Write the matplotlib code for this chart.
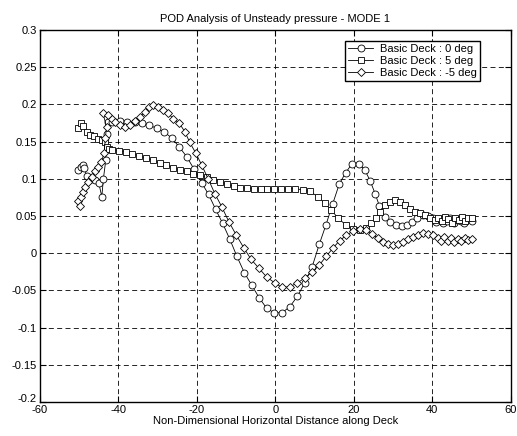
import matplotlib
matplotlib.use('Agg')
import matplotlib.pyplot as plt
import matplotlib.transforms as mtransforms

plt.rcParams['font.family'] = ['Liberation Sans', 'DejaVu Sans']
plt.rcParams['axes.unicode_minus'] = False

# Basic Deck : 0 deg (circles)
x0 = [-50.3, -49.6, -49.1, -48.7, -48.0, -47.0, -46.0, -45.0, -44.2, -43.8, -43.2, -42.9, -42.5,
      -41.5, -39.6, -37.7, -35.8, -34.0, -32.1, -30.2, -28.3, -26.4, -24.5, -22.6, -20.7,
      -18.8, -17.0, -15.2, -13.4, -11.6, -9.8, -7.9, -6.0, -4.1, -2.2, -0.3, 1.7, 3.7,
      5.6, 7.5, 9.4, 11.2, 12.9, 14.6, 16.3, 17.9, 19.5, 21.3, 22.8, 24.2, 25.5, 26.5,
      27.9, 29.2, 30.7, 32.2, 33.5, 34.8, 36.1, 37.6, 38.9, 40.1, 41.0, 41.9, 42.8, 43.7,
      44.6, 45.5, 46.4, 47.3, 48.2, 49.1, 50.0]
y0 = [0.112, 0.116, 0.119, 0.114, 0.104, 0.100, 0.098, 0.095, 0.076, 0.100, 0.125, 0.160, 0.176,
      0.177, 0.178, 0.177, 0.176, 0.175, 0.172, 0.168, 0.163, 0.155, 0.143, 0.130, 0.113,
      0.095, 0.079, 0.059, 0.040, 0.019, -0.004, -0.026, -0.043, -0.060, -0.074, -0.080, -0.080, -0.072,
      -0.058, -0.040, -0.018, 0.012, 0.038, 0.066, 0.093, 0.108, 0.120, 0.120, 0.112, 0.097, 0.079, 0.064,
      0.049, 0.042, 0.038, 0.036, 0.038, 0.042, 0.047, 0.051, 0.050, 0.047, 0.042, 0.046, 0.040, 0.044,
      0.047, 0.041, 0.045, 0.043, 0.040, 0.046, 0.044]

# Basic Deck : 5 deg (squares)
x5 = [-50.2, -49.4, -48.9, -48.1, -47.3, -46.2, -45.1, -44.1, -43.3, -42.8, -42.3,
      -41.5, -39.8, -38.1, -36.4, -34.7, -33.0, -31.2, -29.5, -27.8, -26.0, -24.3, -22.6,
      -20.9, -19.2, -17.5, -15.8, -14.1, -12.4, -10.6, -8.9, -7.2, -5.4, -3.7, -2.0, -0.3,
      1.5, 3.3, 5.1, 7.0, 8.8, 10.9, 12.6, 14.3, 16.0, 18.0, 19.8, 21.5, 23.2, 24.5, 25.7,
      26.6, 27.9, 29.2, 30.4, 31.7, 33.0, 34.3, 35.5, 36.8, 38.1, 39.4, 40.6, 41.5, 42.4,
      43.2, 44.1, 45.0, 45.8, 46.7, 47.6, 48.4, 49.2, 50.0]
y5 = [0.168, 0.175, 0.171, 0.163, 0.159, 0.157, 0.154, 0.152, 0.150, 0.143, 0.140,
      0.139, 0.138, 0.136, 0.134, 0.131, 0.128, 0.125, 0.121, 0.119, 0.115, 0.112, 0.110,
      0.107, 0.105, 0.102, 0.099, 0.096, 0.093, 0.090, 0.088, 0.088, 0.087, 0.086, 0.087, 0.086,
      0.086, 0.087, 0.087, 0.085, 0.083, 0.076, 0.067, 0.058, 0.047, 0.038, 0.032, 0.031, 0.034, 0.040, 0.047,
      0.056, 0.065, 0.069, 0.072, 0.069, 0.065, 0.060, 0.056, 0.054, 0.051, 0.047, 0.045, 0.048, 0.044,
      0.049, 0.046, 0.041, 0.048, 0.045, 0.049, 0.043, 0.047, 0.048]

# Basic Deck : -5 deg (diamonds)
xm5 = [-50.2, -49.8, -49.4, -48.9, -48.5, -47.7, -46.8, -46.0, -45.1, -44.3, -43.6, -43.3, -43.0,
       -43.9, -42.6, -41.7, -40.8, -39.6, -38.3, -37.1, -35.8, -34.5, -33.2, -32.2, -31.1,
       -29.9, -28.6, -27.3, -26.0, -24.5, -23.0, -21.8, -20.3, -18.8, -17.1, -15.4, -13.6,
       -11.8, -9.9, -8.0, -6.2, -4.2, -2.2, -0.1, 1.7, 3.7, 5.6, 7.6, 9.4, 11.2, 13.0, 14.7,
       16.4, 18.1, 19.8, 21.5, 23.2, 24.6, 26.2, 27.5, 28.7, 30.0, 31.3, 32.6, 33.8, 35.1,
       36.4, 37.7, 38.9, 40.2, 41.5, 42.3, 43.1, 43.9, 44.8, 45.6, 46.5, 47.4, 48.3, 49.1, 50.0]
ym5 = [0.070, 0.064, 0.075, 0.082, 0.089, 0.096, 0.103, 0.110, 0.116, 0.123, 0.135, 0.155, 0.170,
       0.188, 0.186, 0.181, 0.176, 0.172, 0.170, 0.172, 0.178, 0.183, 0.190, 0.196, 0.199,
       0.197, 0.193, 0.188, 0.181, 0.175, 0.163, 0.149, 0.135, 0.119, 0.100, 0.080, 0.062,
       0.042, 0.024, 0.007, -0.008, -0.020, -0.032, -0.040, -0.046, -0.045, -0.040, -0.033, -0.025, -0.016, -0.004, 0.007,
       0.017, 0.024, 0.030, 0.032, 0.031, 0.026, 0.020, 0.015, 0.013, 0.011, 0.013, 0.015, 0.019, 0.022,
       0.025, 0.027, 0.026, 0.024, 0.020, 0.017, 0.022, 0.016, 0.020, 0.015, 0.019, 0.017, 0.021, 0.018, 0.019]

xticks = [-60, -40, -20, 0, 20, 40, 60]
yticks = [-0.2, -0.15, -0.1, -0.05, 0, 0.05, 0.1, 0.15, 0.2, 0.25, 0.3]

fig = plt.figure(figsize=(5.17, 4.36), dpi=100)
ax = fig.add_axes([0.077, 0.078, 0.911, 0.853])

style = dict(color='black', linewidth=0.6, markersize=5, markerfacecolor='white',
             markeredgecolor='black', markeredgewidth=0.6)
ax.plot(x0, y0, marker='o', label='Basic Deck : 0 deg', **style)
ax.plot(x5, y5, marker='s', label='Basic Deck : 5 deg', **style)
ax.plot(xm5, ym5, marker='D', label='Basic Deck : -5 deg', **dict(style, markersize=4.2))

ax.set_xlim(-60, 60)
ax.set_ylim(-0.2, 0.3)
ax.set_xticks(xticks)
ax.set_yticks(yticks)
ax.set_xticklabels([str(t) for t in xticks])
ax.set_yticklabels(['%g' % t for t in yticks])
ax.tick_params(direction='in', top=True, right=True, labelsize=8, length=4, pad=2)
ax.grid(True, color='black', linestyle=(0, (6, 4)), linewidth=0.6)
for s in ax.spines.values():
    s.set_linewidth(1.0)

# lift the bottom y label a little so it does not sit on the -60 label
lbl = ax.get_yticklabels()[0]
lbl.set_transform(lbl.get_transform() + mtransforms.ScaledTranslation(0, 4 / 100, fig.dpi_scale_trans))

ax.set_title('POD Analysis of Unsteady pressure - MODE 1', fontsize=8, pad=6)
ax.set_xlabel('Non-Dimensional Horizontal Distance along Deck', fontsize=8, labelpad=1)

leg = ax.legend(loc='upper right', bbox_to_anchor=(0.934, 0.971), fontsize=8,
                fancybox=False, framealpha=1, edgecolor='black', borderpad=0.3,
                labelspacing=0.15, handlelength=2.2, handletextpad=0.6, borderaxespad=0)
leg.get_frame().set_linewidth(1.0)

fig.savefig('out.png', dpi=100)
